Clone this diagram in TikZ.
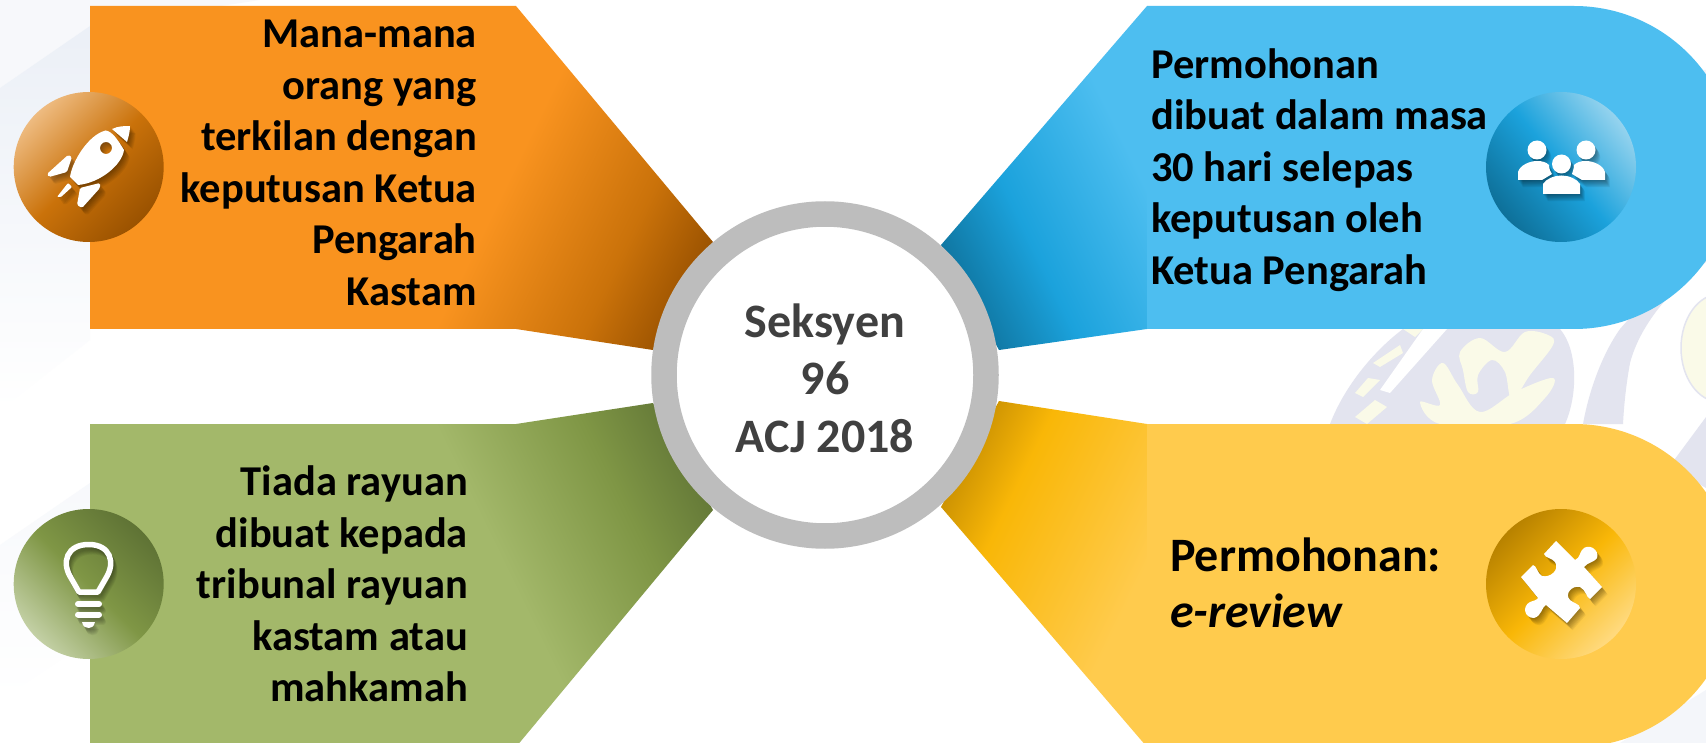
\documentclass[tikz,border=0pt]{standalone}
\usepackage{fontspec}
\setmainfont{Carlito}
\definecolor{orbase}{HTML}{F9931F}\definecolor{ormid}{HTML}{CA720A}\definecolor{ordark}{HTML}{9A5200}\definecolor{orlight}{HTML}{EEBB80}
\definecolor{grbase}{HTML}{A3B86A}\definecolor{grmid}{HTML}{7F9645}\definecolor{grdark}{HTML}{5F7335}\definecolor{grlight}{HTML}{C3D0A5}
\definecolor{blbase}{HTML}{4DBEF0}\definecolor{blmid}{HTML}{1BA2DC}\definecolor{bldark}{HTML}{0E7099}\definecolor{bllight}{HTML}{95D3EE}
\definecolor{yebase}{HTML}{FFCB4D}\definecolor{yemid}{HTML}{F9B707}\definecolor{yedark}{HTML}{B88200}\definecolor{yelight}{HTML}{FFDA80}
\definecolor{ringc}{HTML}{BDBDBD}\definecolor{hubtext}{HTML}{404040}
\definecolor{wmblue}{HTML}{E3E4EF}\definecolor{wmyellow}{HTML}{FAFAE8}\definecolor{bgpale}{HTML}{F1F4F9}
% wing shadings: 1px = 1/16 bp around 50bp (square of side 800)
\pgfdeclarehorizontalshading{wingor}{100bp}{color(0bp)=(orbase);color(50bp)=(orbase);color(58.5bp)=(ormid);color(63.5bp)=(ordark);color(100bp)=(ordark)}
\pgfdeclarehorizontalshading{winggr}{100bp}{color(0bp)=(grbase);color(50bp)=(grbase);color(58.5bp)=(grmid);color(64.5bp)=(grdark);color(100bp)=(grdark)}
\pgfdeclarehorizontalshading{wingbl}{100bp}{color(0bp)=(blbase);color(50bp)=(blbase);color(58bp)=(blmid);color(64bp)=(bldark);color(100bp)=(bldark)}
\pgfdeclarehorizontalshading{wingye}{100bp}{color(0bp)=(yebase);color(50bp)=(yebase);color(59.5bp)=(yemid);color(65bp)=(yedark);color(100bp)=(yedark)}
% icon disc shadings: light / mid / dark along the axis
\pgfdeclarehorizontalshading{discor}{100bp}{color(0bp)=(orlight);color(25bp)=(orlight);color(50bp)=(ormid);color(75bp)=(ordark);color(100bp)=(ordark)}
\pgfdeclarehorizontalshading{discgr}{100bp}{color(0bp)=(grlight);color(25bp)=(grlight);color(50bp)=(grmid);color(75bp)=(grdark);color(100bp)=(grdark)}
\pgfdeclarehorizontalshading{discbl}{100bp}{color(0bp)=(bllight);color(25bp)=(bllight);color(50bp)=(blmid);color(75bp)=(bldark);color(100bp)=(bldark)}
\pgfdeclarehorizontalshading{discye}{100bp}{color(0bp)=(yelight);color(25bp)=(yelight);color(50bp)=(yemid);color(75bp)=(yedark);color(100bp)=(yedark)}
\tikzset{
  bigtext/.style={font=\fontsize{42.5}{51.5}\selectfont\bfseries,text=black,inner sep=0pt},
  bigtextl/.style={font=\fontsize{48}{56}\selectfont\bfseries,text=black,inner sep=0pt},
  hubstyle/.style={font=\fontsize{48}{57.5}\selectfont\bfseries,text=hubtext,inner sep=0pt,align=center},
}
% soft shadow: the icon is repeated at growing offsets with low opacity, then once in white
\newcommand{\softicon}[3]{%
  \foreach \s in {1,...,8}{%
    \begin{scope}[shift={(\s*#2,\s*#3)}]\begin{scope}[black,opacity=.055]#1\end{scope}\end{scope}}%
  \begin{scope}[white]#1\end{scope}}
\newcommand{\rocketshape}{%
  \fill[even odd rule] (105.5,50.5) .. controls (112,51) and (118,60) .. (124,70) .. controls (122,85) and (100,103) .. (78,105) -- (70,97) .. controls (72,82) and (88,55) .. (105.5,50.5) -- cycle (106,68) circle[radius=6];
  \fill (112,49) .. controls (118,46) and (125,46) .. (130,46) .. controls (130,50) and (129,56) .. (127,62) -- cycle;
  \fill[rounded corners=1.5pt] (67,92) -- (49,97) -- (47,94) -- (68,75) -- (72,77) -- cycle;
  \fill[rounded corners=1pt] (68,103) -- (57,117) -- (61,117) -- (72,107) -- cycle;
  \fill[rounded corners=1.5pt] (80,108) -- (100,103) -- (100,108) -- (82,128) -- (77,125) -- cycle;}
\newcommand{\bulbshape}{%
  \draw[line width=5.5pt,line join=round] (79,92) -- (71,78) .. controls (61,62) and (67,44.5) .. (88.7,44.5) .. controls (110,44.5) and (116,62) .. (106,78) -- (98,92) -- cycle;
  \draw[line width=6pt,line cap=round] (78,104) -- (99,104);
  \draw[line width=6pt,line cap=round] (78,114.5) -- (99,114.5);
  \fill (82,122) -- (95,122) .. controls (94,127) and (91,128) .. (88.7,128) .. controls (86,128) and (83,127) .. (82,122) -- cycle;}
\newcommand{\peopleshape}{%
  \fill (67,50) circle[radius=9.5];
  \fill (116,50) circle[radius=9.5];
  \fill (48,80) -- (48,72) .. controls (50,65) and (60,61) .. (67,61) .. controls (72,61) and (76,62) .. (79,65) .. controls (79,70) and (81,72) .. (82,74) -- (72,80) -- cycle;
  \fill (135,80) -- (135,72) .. controls (133,65) and (123,61) .. (116,61) .. controls (111,61) and (107,62) .. (104,65) .. controls (104,70) and (102,72) .. (102,74) -- (112,80) -- cycle;
  \fill (91.5,64) circle[radius=9.5];
  \fill (73,94) -- (73,84) .. controls (76,79) and (84,75.5) .. (91.5,75.5) .. controls (99,75.5) and (107,79) .. (110,84) -- (110,94) -- cycle;}
\newcommand{\puzzleshape}{%
  \fill (86,41) -- (105,60) .. controls (110,58) and (110,52) .. (112,50) .. controls (118,42) and (130,50) .. (127,58) .. controls (125,62) and (118,62) .. (114,67) -- (132,87) -- (120,99) .. controls (116,97) and (116,90) .. (110,87) .. controls (102,85) and (94,94) .. (100,100) .. controls (103,103) and (110,104) .. (110,108) -- (97,123) -- (76,105) .. controls (72,106) and (72,116) .. (64,118) .. controls (54,118) and (52,106) .. (60,102) .. controls (63,101) and (67,100) .. (68,98) -- (51,77) -- (63,65) .. controls (67,66) and (67,73) .. (72,76) .. controls (80,78) and (90,70) .. (85,62) .. controls (82,58) and (75,58) .. (74,54) -- cycle;}
\begin{document}
\begin{tikzpicture}[x=1pt,y=-1pt]
\useasboundingbox (0,0) rectangle (1706,743);
\fill[white] (0,0) rectangle (1706,743);
% pale background sweeps
\fill[bgpale!60] (0,0) -- (260,0) -- (90,26) -- (0,88) -- cycle;
\shade[top color=bgpale!140!white,bottom color=white] (0,88) -- (90,26) -- (90,340) -- (0,410) -- cycle;
\shade[top color=bgpale!55,bottom color=white] (0,545) -- (90,483) -- (90,640) -- (0,700) -- cycle;
\fill[bgpale!80] (1706,743) -- (1706,690) -- (1620,743) -- cycle;
% pale crest watermark
\fill[wmblue] (1330,424) .. controls (1345,385) and (1375,350) .. (1403,329) -- (1560,329) .. controls (1578,350) and (1578,395) .. (1565,424) -- cycle;
\fill[white] (1380,390) -- (1423,329) -- (1447,329) -- (1390,393) -- cycle;
\fill[wmyellow] (1373,363) -- (1400,345) -- (1403,353) -- (1380,367) -- cycle;
\fill[wmyellow] (1355,393) -- (1368,378) -- (1380,380) -- (1363,397) -- cycle;
\fill[wmyellow] (1355,417) -- (1375,400) -- (1387,407) -- (1367,424) -- cycle;
\fill[wmyellow] (1403,329) -- (1423,329) -- (1415,337) -- cycle;
\fill[wmyellow] plot[smooth cycle,tension=.6] coordinates {(1460,352) (1480,338) (1505,352) (1525,332) (1548,335) (1553,345) (1530,375) (1512,400) (1505,372) (1492,360) (1478,375) (1478,392) (1468,392) (1463,370)};
\fill[wmyellow] plot[smooth cycle,tension=.6] coordinates {(1432,380) (1443,363) (1458,385) (1480,412) (1515,392) (1553,378) (1545,398) (1510,424) (1440,424) (1420,402) (1440,405)};
\fill[wmblue] (1583,424) .. controls (1590,385) and (1605,350) .. (1620,329) .. controls (1645,300) and (1675,275) .. (1706,250) -- (1706,262) .. controls (1670,290) and (1640,325) .. (1630,363) .. controls (1626,385) and (1624,405) .. (1623,424) -- cycle;
\fill[wmyellow,draw=wmblue,line width=1.5pt] (1720,348) ellipse[x radius=39,y radius=54];
\fill[wmblue] (1669,467) -- (1706,417) -- (1706,488) -- cycle;
\fill[bgpale] (1690,70) -- (1706,82) -- (1706,70) -- cycle;
% ---- wings
\begin{scope}
  \clip (90,6) -- (516,6) -- (713,242) -- (653,350) -- (516,329) -- (90,329) -- cycle;
  \shade[shading=wingor,shading angle=-26] (35,-71) rectangle (835,729);
\end{scope}
\begin{scope}
  \clip (90,424) -- (516,424) -- (653,403) -- (713,510) -- (516,747) -- (90,747) -- cycle;
  \shade[shading=winggr,shading angle=26] (35,24) rectangle (835,824);
\end{scope}
\begin{scope}
  \clip (1147,6) -- (941,245) -- (999,350) -- (1147,329) -- cycle;
  \shade[shading=wingbl,shading angle=206] (815,-71) rectangle (1615,729);
\end{scope}
\fill[blbase] (1147,6) -- (1574,6) arc[start angle=-90,end angle=90,radius=161.5] -- (1147,329) -- cycle;
\begin{scope}
  \clip (1147,424) -- (999,401) -- (941,507) -- (1147,747) -- cycle;
  \shade[shading=wingye,shading angle=154] (815,24) rectangle (1615,824);
\end{scope}
\fill[yebase] (1147,424) -- (1574,424) arc[start angle=-90,end angle=90,radius=161.5] -- (1147,747) -- cycle;
% ---- hub
\node[circle,draw=ringc,line width=25.5pt,fill=white,minimum size=322pt,inner sep=0pt] (hub) at (825,375) {};
\node[hubstyle] (hubtext) at (825,378) {Seksyen\\96\\ACJ 2018};
% ---- texts
\node[bigtext,align=right,anchor=east] (txtor) at (477,163) {Mana-mana\\orang yang\\terkilan dengan\\keputusan Ketua\\Pengarah\\Kastam};
\node[bigtext,align=right,anchor=east] (txtgr) at (468,584) {Tiada rayuan\\dibuat kepada\\tribunal rayuan\\kastam atau\\mahkamah};
\node[bigtext,align=left,anchor=west] (txtbl) at (1151,170) {Permohonan\\dibuat dalam masa\\30 hari selepas\\keputusan oleh\\Ketua Pengarah};
\node[bigtextl,align=left,anchor=west] (txtye) at (1170,583) {Permohonan:\\\textit{e-review}};
% ---- discs
\shade[shading=discor,shading angle=-45] (88.7,167) circle[radius=75];
\shade[shading=discgr,shading angle=45] (88.7,584) circle[radius=75];
\shade[shading=discbl,shading angle=219] (1561,167) circle[radius=75];
\shade[shading=discye,shading angle=135] (1561,584) circle[radius=75];
% ---- icons
\begin{scope}[shift={(0,80)}]\softicon{\rocketshape}{.7}{.9}\end{scope}
\begin{scope}[shift={(0,500)}]\softicon{\bulbshape}{.5}{.9}\end{scope}
\begin{scope}[shift={(1470,100)}]\softicon{\peopleshape}{.6}{.9}\end{scope}
\begin{scope}[shift={(1470,500)}]\softicon{\puzzleshape}{.7}{.9}\end{scope}
\end{tikzpicture}
\end{document}
